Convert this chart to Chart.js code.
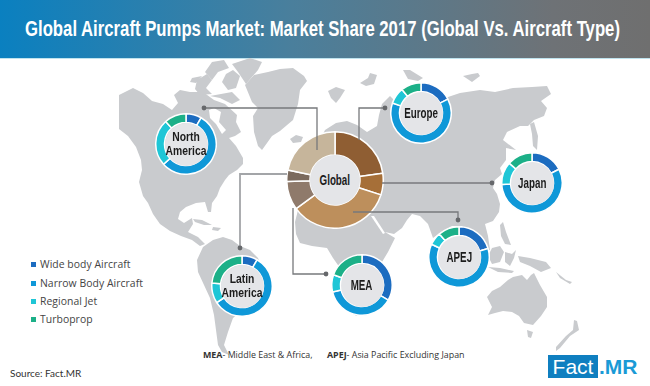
<!DOCTYPE html>
<html lang="en">
<head>
<meta charset="UTF-8">
<title>Global Aircraft Pumps Market</title>
<script src="https://cdn.jsdelivr.net/npm/chart.js"></script>
<style>
    body { margin: 0; background: #fff; }
    #page { position: relative; width: 650px; height: 386px; overflow: hidden; background: #fff; }
    #banner {
        position: absolute; left: 0; top: 0; width: 650px; height: 58px; overflow: hidden;
        background: linear-gradient(90deg, #0a80c0 0%, #4a7f9c 45%, #6e7276 85%, #6f6f6f 100%);
        border-bottom: 1px solid #bfe3ee;
    }
    #banner div {
        position: absolute; left: 25px; top: 16px; width: 790px; white-space: nowrap; color: #fff;
        font: bold 22px "Liberation Sans", sans-serif;
        transform: scaleX(.76); transform-origin: left center;
    }
    svg { position: absolute; left: 0; top: 0; }
    canvas { position: absolute; }
    .hub {
        position: absolute; border-radius: 50%; background: #e4e5e8; color: #1c1c1c;
        display: flex; align-items: center; justify-content: center; text-align: center;
        font: bold 14px/16px "Liberation Sans", sans-serif; z-index: 6;
    }
    .hub span { display: inline-block; white-space: nowrap; transform: scaleX(.7); }
    .hub.two { font: bold 12.2px/14px "Liberation Sans", sans-serif; }
    .hub.two span { transform: scaleX(.85); }
    .key { position: absolute; left: 40px; font: 10.4px "Open Sans", sans-serif; color: #444; letter-spacing: .05px; white-space: nowrap; }
    .swatch { position: absolute; left: 31px; width: 5px; height: 5px; }
    .note { position: absolute; top: 348px; font: 8.9px "Open Sans", sans-serif; color: #333; white-space: nowrap; }
    #source { position: absolute; left: 10px; top: 367px; font: 10px Lato, sans-serif; color: #333; }
    #logo { position: absolute; left: 548px; top: 355px; width: 50px; height: 23px; background: #0f7fc0; color: #fff; font: 21px/23px "Liberation Sans", sans-serif; text-align: center; }
    #logo2 { position: absolute; left: 599px; top: 355px; color: #1a9ad6; font: bold 21px/23px "Liberation Sans", sans-serif; }
</style>
</head>
<body>
<div id="page">
    <div id="banner"><div>Global Aircraft Pumps Market: Market Share 2017 (Global Vs. Aircraft Type)</div></div>

    <!-- world map backdrop -->
    <svg width="650" height="386" fill="#c9cbce">
        <!-- north america -->
        <path d="M119 95L133 88L143 93L152 101L163 104L172 110L178 103L174 95L180 90L190 92L203 92L214 100L225 104L237 115L236 122L241 132L235 136L229 138L236 146L243 158L243 164L237 170L229 175L225 180L220 188L217 196L212 203L211 212L208 212L205 202L196 203L186 207L180 212L178 219L184 223L192 218L193 224L188 232L198 237L205 244L200 246L192 240L181 236L170 231L160 224L153 214L148 203L143 196L139 182L142 170L141 160L136 147L128 136L119 129Z"/>
        <path d="M209 110L214 108L221 112L219 122L226 130L222 134L216 124L210 118Z" fill="#fff"/>
        <path d="M197 80L207 74L212 80L206 88L212 94L200 95L195 89Z"/>
        <path d="M190 82L192 78L202 76L196 83Z"/>
        <path d="M212 62L224 60L229 68L218 72L212 80L205 72Z"/>
        <path d="M226 74L233 70L240 76L236 88L228 90L222 82Z"/>
        <path d="M232 64L250 58L262 62L258 70L246 84L238 72Z"/>
        <path d="M210 96L232 92L240 100L232 104L220 98Z"/>
        <!-- greenland and north atlantic islands -->
        <path d="M245 85L254 75L268 72L280 69L293 68L304 76L307 81L300 90L298 104L293 120L280 131L272 136L262 150L258 146L254 132L253 116L258 108L252 102Z"/>
        <path d="M290 139L296 135L303 137L301 142L293 143Z"/>
        <path d="M328 91L336 87L345 90L340 98L336 103L331 98Z"/>
        <path d="M360 83L368 78L370 73L377 75L374 84L366 86Z"/>
        <path d="M403 70L410 70L423 78L418 81L408 79Z"/>
        <path d="M463 76L472 74L478 73L480 76L472 82Z"/>
        <!-- caribbean -->
        <path d="M193 219L202 220L212 225L204 225L195 222Z"/>
        <path d="M213 227L221 228L218 231L212 230Z"/>
        <!-- south america -->
        <path d="M203 247L213 240L223 237L232 240L240 246L250 250L258 258L262 268L255 278L255 292L250 305L240 312L233 318L228 332L224 345L229 355L222 352L218 345L216 330L214 315L210 298L204 285L198 272L197 260Z"/>
        <!-- eurasia and africa -->
        <path d="M336 123L347 121L357 125L367 132L377 126L379 115L382 104L390 96L394 100L390 112L392 118L400 116L420 100L445 98L460 93L480 90L495 92L513 88L532 87L547 86L551 94L541 101L547 108L544 116L534 120L528 126L520 126L507 132L503 140L516 150L506 148L506 160L500 168L502 174L495 180L493 188L497 194L500 204L499 212L493 221L485 224L488 236L490 250L478 252L470 236L462 226L452 226L444 230L433 238L428 224L420 216L412 214L407 220L402 228L394 234L385 232L395 238L388 252L382 262L378 275L374 295L368 310L356 316L348 306L344 285L340 268L333 258L327 248L312 246L300 243L296 234L295 222L298 210L300 195L310 160L325 130Z"/>
        <path d="M530 124L534 122L538 136L537 150L533 146L532 134Z"/>
        <!-- red sea -->
        <path d="M371 216L374 216L385 233L383 234Z" fill="#fff"/>
        <!-- south east asia -->
        <path d="M500 225L503 222L506 232L511 245L505 244L501 236Z"/>
        <path d="M492 248L500 246L504 252L500 262L492 264L488 256Z"/>
        <path d="M505 252L512 254L516 250L514 258L510 266L505 262Z"/>
        <path d="M518 256L530 258L546 262L551 268L541 272L530 266L520 262Z"/>
        <path d="M488 267L500 268L514 271L512 273L498 272Z"/>
        <path d="M556 272L566 280L572 282L570 284L560 278Z"/>
        <!-- australia and new zealand -->
        <path d="M487 297L492 291L500 287L508 280L513 277L522 275L527 280L531 275L534 273L540 285L547 297L547 307L541 316L533 325L524 323L519 316L512 312L503 311L495 313L488 315L492 307Z"/>
        <path d="M527 330L533 332L531 338L528 337Z"/>
        <path d="M574 320L577 321L579 330L570 336L560 348L556 351L556 347L566 336L573 330Z"/>
    </svg>

    <svg width="650" height="386" style="z-index:5" fill="none" stroke="#77797c" stroke-width="1.3">
        <path d="M204 108H317V150"/>
        <path d="M385 108H359V140"/>
        <path d="M382 183H492"/>
        <path d="M353 212H458V220"/>
        <path d="M293 208V274H326"/>
        <path d="M240 248V174H287" stroke="#a3a5a8" stroke-width="1.8"/>
        <g fill="#66686b" stroke="none">
            <circle cx="204" cy="108" r="2.4"/>
            <circle cx="385" cy="108" r="2.4"/>
            <circle cx="492" cy="183" r="2.4"/>
            <circle cx="458" cy="220" r="2.4"/>
            <circle cx="326" cy="274" r="2.4"/>
            <circle cx="240" cy="248" r="2.4"/>
        </g>
    </svg>

    <div class="note" style="left:203px"><b>MEA</b>- Middle East &amp; Africa,</div>
    <div class="note" style="left:327px"><b>APEJ</b>- Asia Pacific Excluding Japan</div>
    <div id="source">Source: Fact.MR</div>
    <div id="logo">Fact</div>
    <div id="logo2">.MR</div>
</div>

<script>
    // share of each aircraft type, clockwise from the top
    const aircraftTypes = ['Wide body Aircraft', 'Narrow Body Aircraft', 'Regional Jet', 'Turboprop'];
    const typeColors = ['#1c6cc0', '#0f98d8', '#1fc6d6', '#1cb088'];

    const northAmerica = [8.3, 55, 25, 11.7];
    const europe = [17.4, 63, 8.8, 10.8];
    const japan = [17.5, 56.7, 12.2, 13.6];
    const apej = [20.5, 61.4, 6.9, 11.2];
    const latinAmerica = [8.3, 57.5, 10.8, 23.4];
    const mea = [33.3, 38, 9.2, 19.5];

    // global ring, clockwise from the top
    const globalSegments = ['Europe', 'Japan', 'APEJ', 'MEA', 'Latin America', 'North America'];
    const globalShare = [22.8, 7.2, 34.9, 9.6, 3.8, 21.7];
    const globalColors = ['#8f5e33', '#a66f38', '#bd8f5c', '#8f7a6b', '#7b6a5d', '#c6b59b'];

    const page = document.getElementById('page');

    function addRing(id, label, labels, values, colors, left, top, size, hubSize) {
        const canvas = document.createElement('canvas');
        canvas.id = id;
        canvas.width = size;
        canvas.height = size;
        canvas.style.left = left + 'px';
        canvas.style.top = top + 'px';
        page.appendChild(canvas);
        new Chart(canvas.getContext('2d'), {
            type: 'doughnut',
            data: {
                labels: labels,
                datasets: [{ data: values, backgroundColor: colors, borderColor: '#fff', borderWidth: 1.5 }]
            },
            options: {
                responsive: false,
                animation: false,
                cutout: hubSize / 2,
                plugins: { legend: { display: false }, tooltip: { enabled: false } }
            }
        });
        const hub = document.createElement('div');
        hub.className = label.includes('<br>') ? 'hub two' : 'hub';
        hub.innerHTML = '<span>' + label + '</span>';
        hub.style.left = (left + (size - hubSize) / 2) + 'px';
        hub.style.top = (top + (size - hubSize) / 2) + 'px';
        hub.style.width = hub.style.height = hubSize + 'px';
        page.appendChild(hub);
    }

    addRing('global', 'Global', globalSegments, globalShare, globalColors, 286, 131, 98, 50);
    addRing('na', 'North<br>America', aircraftTypes, northAmerica, typeColors, 155, 113, 62, 43);
    addRing('eu', 'Europe', aircraftTypes, europe, typeColors, 390, 82, 62, 43);
    addRing('jp', 'Japan', aircraftTypes, japan, typeColors, 501, 152, 62, 43);
    addRing('apej', 'APEJ', aircraftTypes, apej, typeColors, 428, 226, 62, 43);
    addRing('la', 'Latin<br>America', aircraftTypes, latinAmerica, typeColors, 211, 255, 62, 43);
    addRing('mea', 'MEA', aircraftTypes, mea, typeColors, 331, 254, 62, 43);

    // legend
    const keyTops = [257, 275.5, 293.5, 312];
    aircraftTypes.forEach((name, i) => {
        const swatch = document.createElement('div');
        swatch.className = 'swatch';
        swatch.style.top = (keyTops[i] + 5) + 'px';
        swatch.style.background = typeColors[i];
        page.appendChild(swatch);
        const key = document.createElement('div');
        key.className = 'key';
        key.style.top = keyTops[i] + 'px';
        key.textContent = name;
        page.appendChild(key);
    });
</script>
</body>
</html>
